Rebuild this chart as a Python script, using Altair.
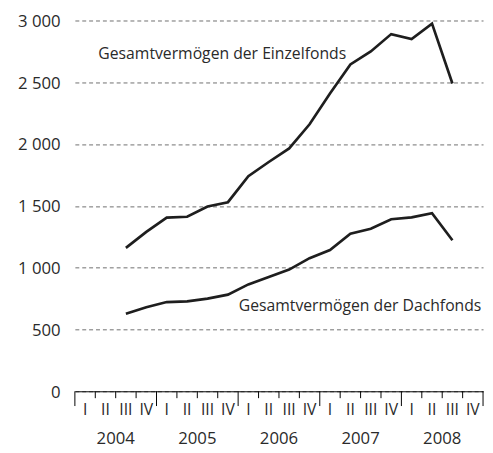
import altair as alt
import pandas as pd

# ---- data ----
years = [2004, 2005, 2006, 2007, 2008]
quarter_names = ["I", "II", "III", "IV"]
periods = ["2004-3", "2004-4",
           "2005-1", "2005-2", "2005-3", "2005-4",
           "2006-1", "2006-2", "2006-3", "2006-4",
           "2007-1", "2007-2", "2007-3", "2007-4",
           "2008-1", "2008-2", "2008-3"]
einzelfonds = [1160, 1290, 1405, 1412, 1495, 1530, 1740, 1855, 1965, 2160,
               2410, 2645, 2750, 2890, 2850, 2975, 2490]
dachfonds = [627, 680, 722, 727, 750, 782, 865, 925, 985, 1077,
             1143, 1275, 1315, 1392, 1407, 1440, 1222]
y_ticks = [0, 500, 1000, 1500, 2000, 2500, 3000]
label_einzel = "Gesamtvermögen der Einzelfonds"
label_dach = "Gesamtvermögen der Dachfonds"

FONT = "Open Sans"
W, H = 415, 377
INK = "#1e1e1e"
TXT = "#2a2a2a"


def pos(p):
    y, q = p.split("-")
    return (int(y) - years[0]) * 4 + int(q) - 0.5


rows = []
for p, v in zip(periods, einzelfonds):
    rows.append({"pos": pos(p), "value": v, "series": "Einzelfonds"})
for p, v in zip(periods, dachfonds):
    rows.append({"pos": pos(p), "value": v, "series": "Dachfonds"})
df = pd.DataFrame(rows)

n_q = len(years) * 4
xs = alt.Scale(domain=[0, n_q], nice=False, zero=False)
ys = alt.Scale(domain=[0, 3000], nice=False)

x_axis = alt.Axis(
    values=[0, n_q], labels=False, ticks=False, grid=False, domain=True,
    domainColor="black", domainWidth=1, title=None,
)
y_axis = alt.Axis(
    values=y_ticks,
    labelExpr="replace(format(datum.value, ','), ',', ' ')",
    grid=True, gridDash=[4, 3], gridColor="#6e6e6e", gridWidth=1,
    domain=False, ticks=False, labelPadding=15, labelOffset=1,
    labelFont=FONT, labelFontSize=17, labelColor=TXT, title=None,
)

lines = alt.Chart(df).mark_line(color=INK, strokeWidth=2.7, strokeJoin="miter").encode(
    x=alt.X("pos:Q", scale=xs, axis=x_axis),
    y=alt.Y("value:Q", scale=ys, axis=y_axis),
    detail="series:N",
)

bounds = pd.DataFrame({"b": list(range(n_q + 1))})
short_ticks = alt.Chart(bounds).transform_filter("datum.b % 4 != 0").mark_rule(
    color="black", strokeWidth=1
).encode(x=alt.X("b:Q", scale=xs), y=alt.value(H), y2=alt.value(H + 7))
long_ticks = alt.Chart(bounds).transform_filter("datum.b % 4 == 0").mark_rule(
    color="black", strokeWidth=1
).encode(x=alt.X("b:Q", scale=xs), y=alt.value(H), y2=alt.value(H + 15))

qdf = pd.DataFrame({
    "center": [i + 0.5 for i in range(n_q)],
    "q": [quarter_names[i % 4] for i in range(n_q)],
})
quarter_text = alt.Chart(qdf).mark_text(
    font=FONT, fontSize=16, color=TXT, baseline="alphabetic", align="center"
).encode(x=alt.X("center:Q", scale=xs), y=alt.value(H + 24), text="q:N")

ydf = pd.DataFrame({"year": [str(y) for y in years],
                    "center": [(y - years[0]) * 4 + 2 for y in years]})
year_text = alt.Chart(ydf).mark_text(
    font=FONT, fontSize=17, color=TXT, baseline="alphabetic", align="center"
).encode(x=alt.X("center:Q", scale=xs), y=alt.value(H + 54), text="year:N")

ann = pd.DataFrame({"x": [1.15, 8.03], "y": [2730, 690],
                    "label": [label_einzel, label_dach]})
ann_text = alt.Chart(ann).mark_text(
    font=FONT, fontSize=16, color=TXT, align="left", baseline="middle"
).encode(x=alt.X("x:Q", scale=xs), y=alt.Y("y:Q", scale=ys), text="label:N")

chart = alt.layer(lines, short_ticks, long_ticks, quarter_text, year_text, ann_text).properties(
    width=W, height=H, autosize="none",
    padding={"left": 68, "top": 9, "right": 2, "bottom": 57},
    background="white",
).configure_view(stroke=None)

chart.save("out.html", embed_options={"renderer": "svg", "actions": False})
